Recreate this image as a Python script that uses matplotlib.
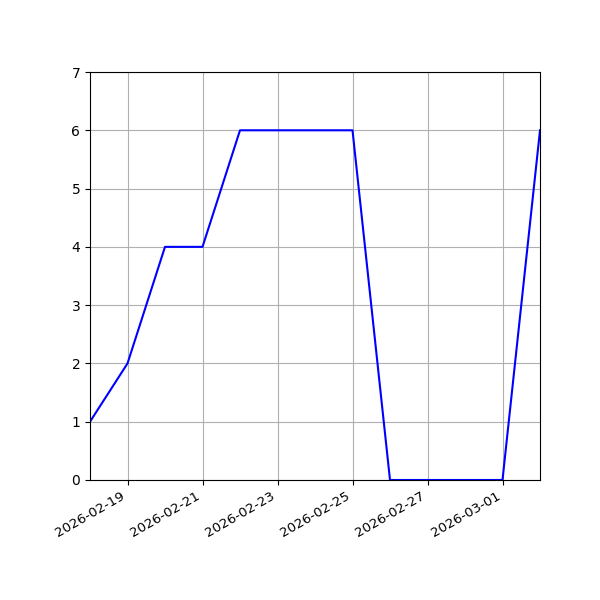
import matplotlib
matplotlib.use("Agg")
import matplotlib.pyplot as plt
import matplotlib.dates as mdates
import pandas as pd

# daily counts
dates = pd.date_range("2026-02-18", "2026-03-02", freq="D")
counts = [1, 2, 4, 4, 6, 6, 6, 6, 0, 0, 0, 0, 6]

fig, ax = plt.subplots(figsize=(6, 6), dpi=100)
ax.plot(dates, counts, color="blue")

ax.set_xlim(dates[0], dates[-1])
ax.set_ylim(0, 7)
ax.xaxis.set_major_locator(mdates.DayLocator(bymonthday=[1, 19, 21, 23, 25, 27]))
ax.xaxis.set_major_formatter(mdates.DateFormatter("%Y-%m-%d"))
ax.tick_params(axis="x", labelsize=9.6)
ax.grid(True)

fig.autofmt_xdate()
fig.subplots_adjust(left=0.15, right=0.9, top=0.88, bottom=0.2)
fig.savefig("out.png")
